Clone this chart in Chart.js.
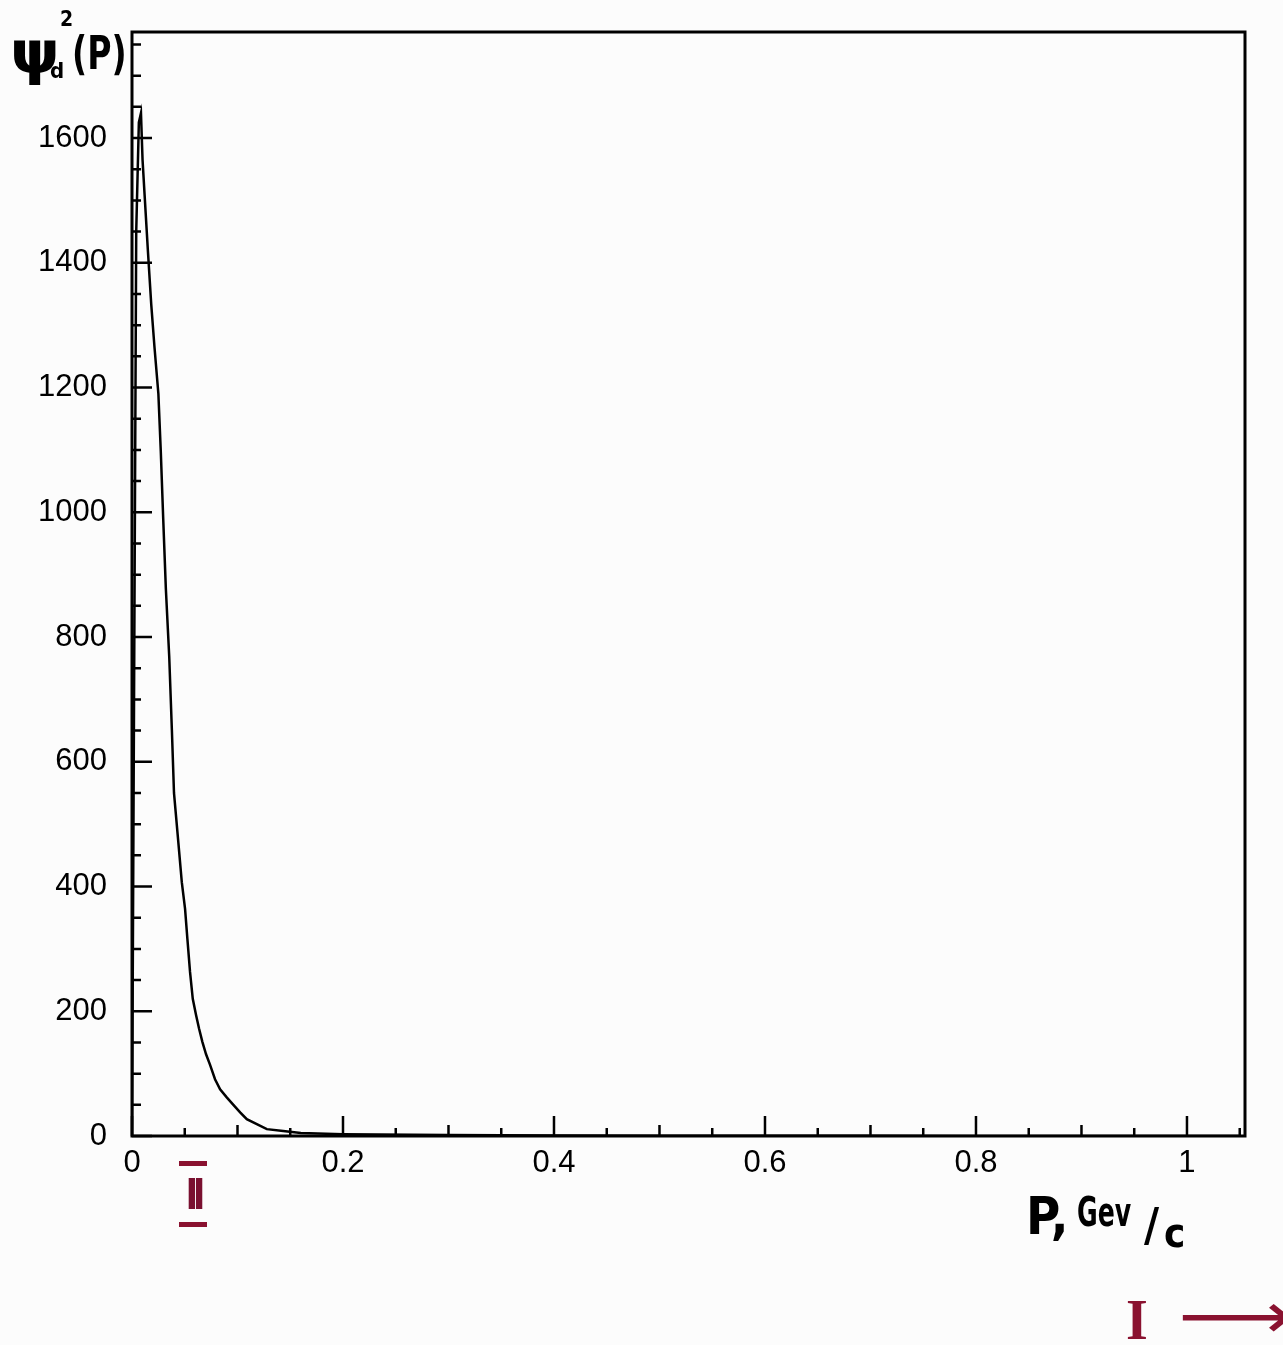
<!DOCTYPE html>
<html><head><meta charset="utf-8">
<script src="https://cdn.jsdelivr.net/npm/chart.js@4.4.1/dist/chart.umd.min.js"></script>
<style>
html,body{margin:0;padding:0;background:#fcfcfc;}
#wrap{position:relative;width:1283px;height:1345px;overflow:hidden;background:#fcfcfc;}
canvas{position:absolute;left:0;top:0;}
.lbl{position:absolute;white-space:nowrap;color:#000;line-height:1;}
.hw{font-family:'DejaVu Sans Condensed','DejaVu Sans',sans-serif;font-weight:bold;}
</style></head><body>
<div id="wrap">
<canvas id="c" width="1283" height="1345"></canvas>
<div id="ytitle">
  <span class="lbl hw" style="left:10px;top:24px;font-size:58px;transform:scaleX(1.2);transform-origin:left top;">ψ</span>
  <span class="lbl hw" style="left:60px;top:9px;font-size:21px;">2</span>
  <span class="lbl hw" style="left:50px;top:60px;font-size:22px;">d</span>
  <span class="lbl hw" style="left:72px;top:30px;font-size:46px;transform:scaleX(0.8);transform-origin:left top;">(P)</span>
</div>
<div id="xtitle">
  <span class="lbl hw" style="left:1026px;top:1190px;font-size:52px;">P,</span>
  <span class="lbl hw" style="left:1077px;top:1192px;font-size:40px;transform:scaleX(0.7);transform-origin:left top;">Gev</span>
  <span class="lbl hw" style="left:1144px;top:1202px;font-size:46px;">/</span>
  <span class="lbl hw" style="left:1164px;top:1213px;font-size:40px;">c</span>
</div>
<div class="lbl" id="region2" style="left:179px;top:1161px;width:28px;height:56px;border-top:5px solid #8a1230;border-bottom:5px solid #8a1230;text-align:center;font-family:'Liberation Sans',sans-serif;font-weight:bold;font-size:44px;line-height:56px;color:#7a1030;letter-spacing:-5px;">II</div>
<div class="lbl" id="region1" style="left:1126px;top:1292px;font-family:'Liberation Serif',serif;font-weight:bold;font-size:56px;color:#8a1230;">I</div>
<div class="lbl" id="arrow" style="left:1178px;top:1284px;font-family:'DejaVu Sans',sans-serif;font-size:64px;color:#8a1230;transform:scaleX(1.25);transform-origin:left center;">⟶</div>
</div>
<script>
// Data
const pValues   = [0, 0.004, 0.0065, 0.0085, 0.0100, 0.0119, 0.015, 0.0182, 0.0213, 0.025, 0.0273, 0.0296, 0.0321, 0.0353, 0.0378, 0.0398, 0.0439, 0.0472, 0.0503, 0.0525, 0.055, 0.0576, 0.0607, 0.0636, 0.0667, 0.0702, 0.074, 0.0787, 0.0835, 0.0898, 0.0961, 0.1025, 0.1088, 0.1183, 0.1278, 0.1433, 0.16, 0.2, 0.3, 0.4, 0.5, 0.6, 0.7, 0.8, 0.9, 1.0, 1.05];
const psiValues = [0, 1450, 1625, 1640, 1565, 1510, 1421, 1334, 1265, 1190, 1097, 989, 877, 768, 651, 550, 471, 407, 364, 316, 263, 220, 194, 172, 151, 131, 114, 91, 75, 62, 50, 38, 27, 19, 11, 8, 5, 3, 1.5, 1, 0.6, 0.4, 0.3, 0.2, 0.1, 0.1, 0];
const xTickValues = [0, 0.2, 0.4, 0.6, 0.8, 1];
const xTickLabels = ['0', '0.2', '0.4', '0.6', '0.8', '1'];
const yTickValues = [0, 200, 400, 600, 800, 1000, 1200, 1400, 1600];
const yTickLabels = ['0', '200', '400', '600', '800', '1000', '1200', '1400', '1600'];

const X_MAX = 1.055, Y_MAX = 1770;
const X_MINOR = 0.05, Y_MINOR = 50;

const tickFont = {family: "'Liberation Sans', Arial, sans-serif", size: 31};

const frameTicks = {
  id: 'frameTicks',
  afterDraw(chart) {
    const {ctx, chartArea: a, scales: {x, y}} = chart;
    ctx.save();
    ctx.strokeStyle = '#000';
    ctx.lineWidth = 3;
    ctx.strokeRect(a.left, a.top, a.right - a.left, a.bottom - a.top);
    ctx.lineWidth = 2.5;
    ctx.beginPath();
    for (let i = 0; i * X_MINOR <= X_MAX + 1e-9; i++) {
      const px = x.getPixelForValue(i * X_MINOR);
      let len = 8;
      if (i % 4 === 0) len = 20; else if (i % 2 === 0) len = 11;
      ctx.moveTo(px, a.bottom);
      ctx.lineTo(px, a.bottom - len);
    }
    for (let i = 0; i * Y_MINOR <= Y_MAX + 1e-9; i++) {
      const py = y.getPixelForValue(i * Y_MINOR);
      const len = (i % 4 === 0) ? 20 : 9;
      ctx.moveTo(a.left, py);
      ctx.lineTo(a.left + len, py);
    }
    ctx.stroke();
    ctx.restore();
  }
};

new Chart(document.getElementById('c'), {
  type: 'line',
  data: {
    datasets: [{
      data: pValues.map((p, i) => ({x: p, y: psiValues[i]})),
      borderColor: '#000',
      borderWidth: 2.5,
      pointRadius: 0,
      tension: 0,
      fill: false
    }]
  },
  options: {
    responsive: false,
    animation: false,
    devicePixelRatio: 1,
    layout: {padding: {top: 32, right: 38, left: 0, bottom: 0}},
    plugins: {legend: {display: false}, tooltip: {enabled: false}},
    scales: {
      x: {
        type: 'linear', min: 0, max: X_MAX,
        grid: {display: false, drawTicks: true, tickLength: 9},
        border: {display: false},
        afterBuildTicks: s => { s.ticks = xTickValues.map(v => ({value: v})); },
        ticks: {maxRotation: 0, autoSkip: false,
                color: '#000', font: tickFont, padding: 0,
                callback: (v, i) => xTickLabels[i]},
        afterFit: s => { s.height = 209; }
      },
      y: {
        type: 'linear', min: 0, max: Y_MAX,
        grid: {display: false, drawTicks: true, tickLength: 25},
        border: {display: false},
        afterBuildTicks: s => { s.ticks = yTickValues.map(v => ({value: v})); },
        ticks: {autoSkip: false,
                color: '#000', font: tickFont, padding: 0,
                callback: (v, i) => yTickLabels[i]},
        afterFit: s => { s.width = 132; }
      }
    }
  },
  plugins: [frameTicks]
});
</script>
</body></html>
